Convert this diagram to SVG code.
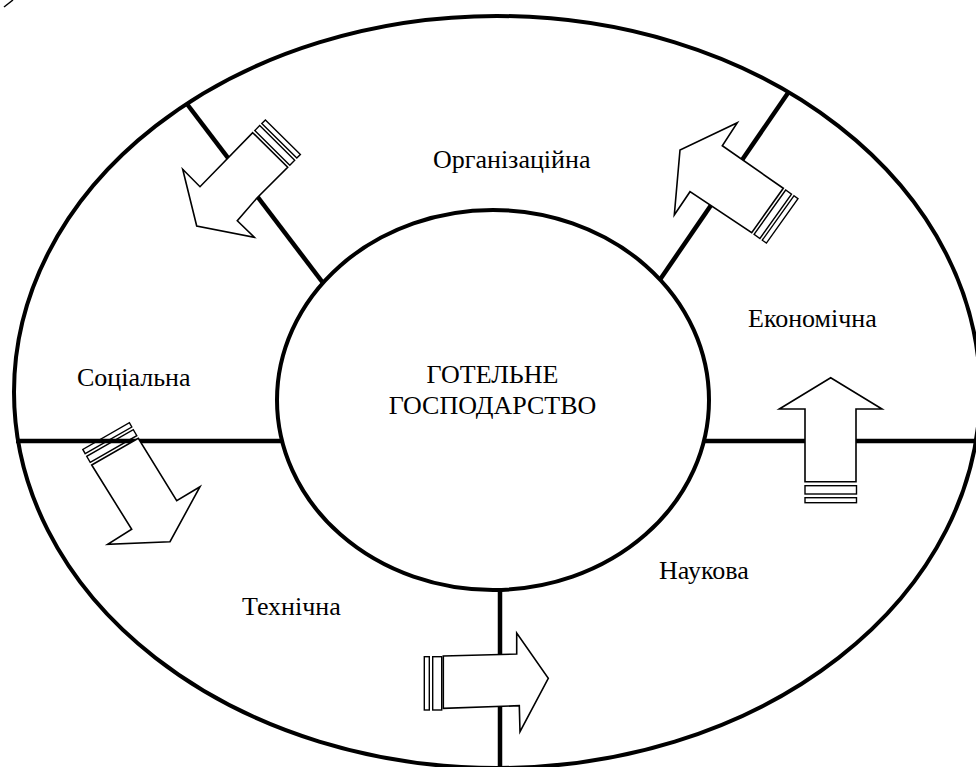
<svg xmlns="http://www.w3.org/2000/svg" width="976" height="767" viewBox="0 0 976 767">
<style>
.ring{fill:none;stroke:#000;stroke-width:4}
.core{fill:#fff;stroke:#000;stroke-width:4}
.div{stroke:#000;stroke-width:4.5;fill:none}
.arr{fill:#fff;stroke:#000;stroke-width:1.6;stroke-linejoin:miter}
.stripe{fill:none;stroke:#000;stroke-width:1.4}
.lbl{font-family:"Liberation Serif","Times New Roman",serif;font-size:26px;fill:#000}
.ctr{font-family:"Liberation Serif","Times New Roman",serif;font-size:26px;fill:#000;text-anchor:middle}
</style>
<rect width="976" height="767" fill="#fff"/>
<line x1="4" y1="7" x2="13" y2="0" stroke="#000" stroke-width="1.5"/>
<g id="outer"><ellipse class="ring" cx="497" cy="392" rx="483" ry="376"/></g>
<g id="connectors">
<line class="div" x1="187" y1="104" x2="336" y2="300"/>
<line class="div" x1="789" y1="91.5" x2="646" y2="300"/>
<line class="div" x1="16" y1="441" x2="300" y2="441"/>
<line class="div" x1="690" y1="441" x2="980" y2="441"/>
<line class="div" x1="500" y1="570" x2="500" y2="770"/>
</g>
<g id="core">
<ellipse class="core" cx="493" cy="400" rx="216" ry="190"/>
<text class="ctr" x="492.5" y="383">ГОТЕЛЬНЕ</text>
<text class="ctr" x="492.5" y="414">ГОСПОДАРСТВО</text>
</g>
<g id="arrow-organizational">
<polygon class="arr" points="252.7,132.7 287.7,167.3 256.7,198.3 237.3,220.7 254.3,237.3 196.7,226 182.7,169.3 200,186.7"/>
<polygon class="stripe" points="254.8,130.6 289.8,165.2 294.7,160.2 259.7,125.6"/>
<polygon class="stripe" points="261.8,123.5 296.8,158.1 300.4,154.5 265.4,119.9"/>
</g>
<g id="arrow-economic-up">
<polygon class="arr" points="783.3,188.3 751.7,232.7 690,191.7 674.3,215 680,150 737.3,122.7 722.3,145.7"/>
<polygon class="stripe" points="785.7,190 754.1,234.4 759.9,238.5 791.5,194.1"/>
<polygon class="stripe" points="793.9,195.8 762.3,240.2 766.4,243.1 798,198.7"/>
</g>
<g id="arrow-social">
<polygon class="arr" points="91.7,465 138.3,438.3 176.7,500.7 200,486.7 170,541.7 107.7,544.3 131.7,529.3"/>
<polygon class="stripe" points="90.2,462.4 136.8,435.7 133.3,429.6 86.7,456.3"/>
<polygon class="stripe" points="85.2,453.7 131.8,427 129.4,422.7 82.8,449.4"/>
</g>
<g id="arrow-economic">
<polygon class="arr" points="830.7,377.7 882,409 856,409 856,481.7 805,481.7 805,409 779.3,409"/>
<rect class="stripe" x="805" y="485.7" width="51.5" height="8.3"/>
<rect class="stripe" x="805" y="497.7" width="51.5" height="5"/>
</g>
<g id="arrow-technical">
<polygon class="arr" points="443.3,656 516.7,654 516.7,633 548.3,678.3 520,731.7 519.3,705.7 443.3,708.3"/>
<rect class="stripe" x="432.7" y="656.7" width="9" height="53.3"/>
<rect class="stripe" x="424.3" y="656.7" width="5" height="53.3"/>
</g>
<g id="labels">
<text class="lbl" x="433" y="167.7">Організаційна</text>
<text class="lbl" x="77" y="386">Соціальна</text>
<text class="lbl" x="748" y="327">Економічна</text>
<text class="lbl" x="242" y="615">Технічна</text>
<text class="lbl" x="659" y="579">Наукова</text>
</g>
</svg>
